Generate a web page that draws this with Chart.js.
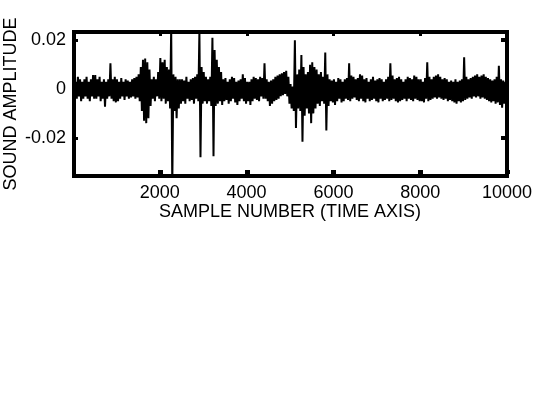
<!DOCTYPE html>
<html>
<head>
<meta charset="utf-8">
<title>Sound amplitude</title>
<script src="https://cdn.jsdelivr.net/npm/chart.js@4/dist/chart.umd.min.js"></script>
<style>
  body { margin: 0; background: #fff; }
  canvas { display: block; }
</style>
</head>
<body>
<canvas id="chart" width="560" height="420"></canvas>
<script>
//
//    Sound waveform, 10000 samples, drawn as a per-bin envelope
//

// samples per bin (the picture only shows the envelope of every bin)
var BIN = 50;

// upper envelope of each bin
var binHigh = [
  0.004, 0.003, 0.005, 0.004, 0.003, 0.004, 0.005, 0.003, 0.004, 0.0057,
  0.0057, 0.004, 0.005, 0.003, 0.004, 0.003, 0.004, 0.0106, 0.004, 0.005,
  0.004, 0.003, 0.0045, 0.003, 0.004, 0.0035, 0.003, 0.004, 0.0045, 0.005,
  0.006, 0.009, 0.012, 0.0125, 0.011, 0.008, 0.004, 0.005, 0.004, 0.007,
  0.0127, 0.011, 0.012, 0.009, 0.008, 0.025, 0.006, 0.005, 0.004, 0.004,
  0.004, 0.0035, 0.005, 0.003, 0.004, 0.0045, 0.005, 0.006, 0.024, 0.009,
  0.007, 0.005, 0.004, 0.005, 0.021, 0.016, 0.012, 0.009, 0.007, 0.004,
  0.0045, 0.003, 0.004, 0.005, 0.0045, 0.003, 0.0035, 0.004, 0.006, 0.0045,
  0.003, 0.003, 0.004, 0.005, 0.0045, 0.004, 0.005, 0.0045, 0.0106, 0.004,
  0.003, 0.0035, 0.004, 0.005, 0.0055, 0.006, 0.0065, 0.007, 0.0075, 0.005,
  0.002, 0.001, 0.020, 0.006, 0.008, 0.014, 0.009, 0.006, 0.007, 0.010,
  0.011, 0.009, 0.008, 0.006, 0.007, 0.005, 0.015, 0.006, 0.004, 0.0035,
  0.004, 0.003, 0.0045, 0.004, 0.003, 0.004, 0.0045, 0.0106, 0.0055, 0.005,
  0.004, 0.0045, 0.006, 0.0055, 0.004, 0.0045, 0.003, 0.004, 0.005, 0.0035,
  0.004, 0.0045, 0.004, 0.003, 0.004, 0.005, 0.0106, 0.0055, 0.004, 0.0045,
  0.005, 0.004, 0.003, 0.004, 0.005, 0.0045, 0.004, 0.0055, 0.005, 0.004,
  0.004, 0.003, 0.0045, 0.011, 0.005, 0.004, 0.005, 0.0055, 0.006, 0.005,
  0.004, 0.0045, 0.004, 0.003, 0.0035, 0.003, 0.004, 0.003, 0.0035, 0.004,
  0.013, 0.005, 0.004, 0.0045, 0.005, 0.0055, 0.006, 0.005, 0.0055, 0.006,
  0.005, 0.0045, 0.004, 0.0035, 0.004, 0.005, 0.0095, 0.004, 0.0035, 0.003
];

// lower envelope of each bin
var binLow = [
  -0.003, -0.004, -0.003, -0.005, -0.004, -0.003, -0.004, -0.005, -0.003, -0.004,
  -0.004, -0.003, -0.005, -0.004, -0.0073, -0.004, -0.003, -0.004, -0.005, -0.0055,
  -0.005, -0.004, -0.003, -0.0045, -0.003, -0.004, -0.0035, -0.003, -0.004, -0.0035,
  -0.005, -0.009, -0.013, -0.014, -0.012, -0.007, -0.004, -0.005, -0.003, -0.004,
  -0.005, -0.004, -0.006, -0.005, -0.008, -0.040, -0.009, -0.012, -0.008, -0.006,
  -0.005, -0.006, -0.004, -0.005, -0.0045, -0.006, -0.004, -0.005, -0.028, -0.006,
  -0.005, -0.006, -0.005, -0.007, -0.0276, -0.007, -0.006, -0.005, -0.0065, -0.005,
  -0.0045, -0.006, -0.005, -0.004, -0.0055, -0.0065, -0.005, -0.004, -0.005, -0.006,
  -0.005, -0.0065, -0.005, -0.004, -0.0045, -0.005, -0.003, -0.004, -0.004, -0.005,
  -0.007, -0.006, -0.005, -0.0045, -0.004, -0.003, -0.0025, -0.002, -0.003, -0.006,
  -0.008, -0.009, -0.016, -0.008, -0.009, -0.0216, -0.011, -0.008, -0.010, -0.014,
  -0.010, -0.008, -0.006, -0.007, -0.005, -0.006, -0.017, -0.007, -0.005, -0.0055,
  -0.0065, -0.005, -0.004, -0.0055, -0.005, -0.004, -0.0045, -0.005, -0.004, -0.0035,
  -0.0045, -0.005, -0.004, -0.005, -0.0055, -0.004, -0.005, -0.0045, -0.004, -0.005,
  -0.0055, -0.004, -0.005, -0.0045, -0.004, -0.005, -0.0045, -0.004, -0.005, -0.0055,
  -0.005, -0.0045, -0.004, -0.005, -0.004, -0.0045, -0.005, -0.004, -0.0045, -0.005,
  -0.005, -0.0055, -0.004, -0.005, -0.0045, -0.004, -0.0035, -0.004, -0.0035, -0.004,
  -0.0045, -0.004, -0.005, -0.0045, -0.005, -0.0055, -0.006, -0.005, -0.0055, -0.005,
  -0.0045, -0.004, -0.0035, -0.004, -0.003, -0.0035, -0.003, -0.004, -0.0035, -0.004,
  -0.0045, -0.005, -0.0055, -0.005, -0.006, -0.0055, -0.0065, -0.0077, -0.006, -0.005
];

var xTickValues = [2000, 4000, 6000, 8000, 10000];
var yTickValues = [-0.02, 0, 0.02];

var xRange = [0, 10000];
var yRange = [-0.0357, 0.0234];

var xTitle = 'SAMPLE NUMBER (TIME AXIS)';
var yTitle = 'SOUND AMPLITUDE';

var FONT = "'Liberation Sans', Arial, Helvetica, sans-serif";

// zig-zag through the envelope: top of a bin, then bottom of the bin
function buildPoints() {
  var pts = [];
  for (var i = 0; i < binHigh.length; i++) {
    pts.push({ x: i * BIN + BIN * 0.25, y: binHigh[i] });
    pts.push({ x: i * BIN + BIN * 0.75, y: binLow[i] });
  }
  return pts;
}

// thick frame plus the little inward tick marks
var framePlugin = {
  id: 'frame',
  afterDatasetsDraw: function(chart) {
    var ctx = chart.ctx;
    var a = chart.chartArea;
    var L = a.left - 1, T = a.top - 2, R = a.right + 2, B = a.bottom + 2;
    var w = 4;
    ctx.save();
    ctx.fillStyle = '#000';
    ctx.fillRect(L, T, R - L, w);
    ctx.fillRect(L, B - w, R - L, w);
    ctx.fillRect(L, T, w, B - T);
    ctx.fillRect(R - w, T, w, B - T);

    var xs = chart.scales.x, ys = chart.scales.y;
    xTickValues.forEach(function(v) {
      var px = Math.round(xs.getPixelForValue(v));
      ctx.fillRect(px - 2, B - w - 4, 5, 4);
      ctx.fillRect(px - 1, T + w, 3, 2);
    });
    yTickValues.forEach(function(v) {
      var py = Math.round(ys.getPixelForValue(v));
      ctx.fillRect(L + w, py - 1, 2, 3);
      ctx.fillRect(R - w - 4, py - 2, 4, 4);
    });
    ctx.restore();
  }
};

var ctx = document.getElementById('chart').getContext('2d');

var myChart = new Chart(ctx, {
  type: 'line',
  data: {
    datasets: [{
      data: buildPoints(),
      borderColor: '#000',
      borderWidth: 2,
      pointRadius: 0,
      tension: 0,
      fill: false
    }]
  },
  options: {
    responsive: false,
    animation: false,
    events: [],
    layout: { padding: { left: 0, top: 32, right: 53, bottom: 197 } },
    plugins: { legend: { display: false }, tooltip: { enabled: false } },
    scales: {
      x: {
        type: 'linear',
        min: xRange[0],
        max: xRange[1],
        grid: { display: false, drawTicks: false },
        border: { display: false },
        afterBuildTicks: function(scale) {
          scale.ticks = xTickValues.map(function(v) { return { value: v }; });
        },
        afterFit: function(scale) { scale.height = 47; },
        ticks: {
          color: '#000',
          font: { family: FONT, size: 18 },
          padding: 6,
          maxRotation: 0,
          autoSkip: false,
          callback: function(v) { return String(v); }
        },
        title: {
          display: true,
          text: xTitle,
          color: '#000',
          font: { family: FONT, size: 18 },
          padding: 0
        }
      },
      y: {
        min: yRange[0],
        max: yRange[1],
        grid: { display: false, drawTicks: false },
        border: { display: false },
        afterBuildTicks: function(scale) {
          scale.ticks = yTickValues.map(function(v) { return { value: v }; });
        },
        afterFit: function(scale) { scale.width = 73; },
        ticks: {
          color: '#000',
          font: { family: FONT, size: 18 },
          padding: 7,
          callback: function(v) { return v === 0 ? '0' : v.toFixed(2); }
        },
        title: {
          display: true,
          text: yTitle,
          color: '#000',
          font: { family: FONT, size: 18 },
          padding: 0
        }
      }
    }
  },
  plugins: [framePlugin]
});
</script>
</body>
</html>
